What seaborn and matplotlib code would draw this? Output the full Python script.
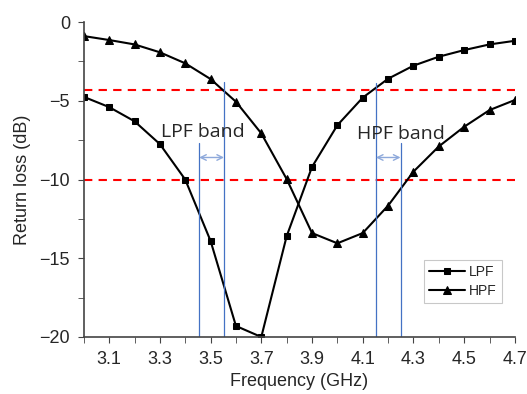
import numpy as np
import pandas as pd
import seaborn as sns
import matplotlib.pyplot as plt
from matplotlib.ticker import MultipleLocator, FixedLocator

freq = [3.0, 3.1, 3.2, 3.3, 3.4, 3.5, 3.6, 3.7, 3.8, 3.9,
        4.0, 4.1, 4.2, 4.3, 4.4, 4.5, 4.6, 4.7]
lpf = [-4.75, -5.4, -6.3, -7.75, -10.0, -13.9, -19.3, -20.0, -13.6, -9.2,
       -6.55, -4.8, -3.6, -2.77, -2.2, -1.78, -1.42, -1.19]
hpf = [-0.89, -1.14, -1.42, -1.92, -2.62, -3.62, -5.06, -7.07, -9.97, -13.4,
       -14.05, -13.4, -11.66, -9.5, -7.9, -6.65, -5.59, -4.95]

ref_levels = [-4.3, -10.0]
lpf_band = [3.455, 3.553]
hpf_band = [4.152, 4.249]

sns.set_style("ticks")
plt.rcParams['font.family'] = ['Liberation Sans', 'DejaVu Sans']

df = pd.DataFrame({'freq': freq, 'LPF': lpf, 'HPF': hpf})

fig = plt.figure(figsize=(5.27, 3.94), dpi=100)
ax = fig.add_axes([0.159, 0.1447, 0.818, 0.7993])

sns.lineplot(data=df, x='freq', y='LPF', ax=ax, color='black', marker='s',
             markersize=5, markeredgecolor='black', linewidth=1.5, label='LPF')
sns.lineplot(data=df, x='freq', y='HPF', ax=ax, color='black', marker='^',
             markersize=6, markeredgecolor='black', linewidth=1.5, label='HPF')

for lvl in ref_levels:
    ax.axhline(lvl, color='red', linestyle=(0, (4, 3)), linewidth=1.5, zorder=1)

# band marker lines (tops where they meet the curves)
ax.plot([lpf_band[0]] * 2, [-20, -7.7], color='#4472C4', linewidth=0.9)
ax.plot([lpf_band[1]] * 2, [-20, -3.8], color='#4472C4', linewidth=0.9)
ax.plot([hpf_band[0]] * 2, [-20, -3.9], color='#4472C4', linewidth=0.9)
ax.plot([hpf_band[1]] * 2, [-20, -7.7], color='#4472C4', linewidth=0.9)

for band in (lpf_band, hpf_band):
    ax.annotate('', xy=(band[0], -8.6), xytext=(band[1], -8.6),
                arrowprops=dict(arrowstyle='<->', color='#8EA9DB', lw=1,
                                shrinkA=0, shrinkB=0))

ax.text(3.47, -6.95, 'LPF band', fontsize=14, family=['Open Sans', 'DejaVu Sans'],
        ha='center', va='center')
ax.text(4.25, -7.1, 'HPF band', fontsize=14, family=['Open Sans', 'DejaVu Sans'],
        ha='center', va='center')

ax.set_xlim(3.0, 4.7)
ax.set_ylim(-20, 0)
ax.xaxis.set_major_locator(FixedLocator([3.1, 3.3, 3.5, 3.7, 3.9, 4.1, 4.3, 4.5, 4.7]))
ax.xaxis.set_minor_locator(FixedLocator([3.0, 3.2, 3.4, 3.6, 3.8, 4.0, 4.2, 4.4, 4.6]))
ax.yaxis.set_major_locator(MultipleLocator(5))
ax.yaxis.set_minor_locator(MultipleLocator(2.5))
ax.tick_params(which='both', direction='out', color='#444444', labelsize=13)
ax.tick_params(which='major', length=4, pad=6)
ax.tick_params(which='minor', length=4)
for s in ('left', 'bottom'):
    ax.spines[s].set_color('#444444')
    ax.spines[s].set_linewidth(1.2)
sns.despine(ax=ax)

ax.set_xlabel('Frequency (GHz)', fontsize=13, labelpad=4)
ax.set_ylabel('Return loss (dB)', fontsize=13, labelpad=6)

leg = ax.legend(loc='lower right', bbox_to_anchor=(0.97, 0.108), borderaxespad=0,
                fontsize=10, frameon=True, fancybox=False, edgecolor='#bbbbbb',
                handlelength=2.6, borderpad=0.35, labelspacing=0.35, handletextpad=0.3)
leg.get_frame().set_linewidth(0.8)

fig.savefig('out.png', dpi=100)
